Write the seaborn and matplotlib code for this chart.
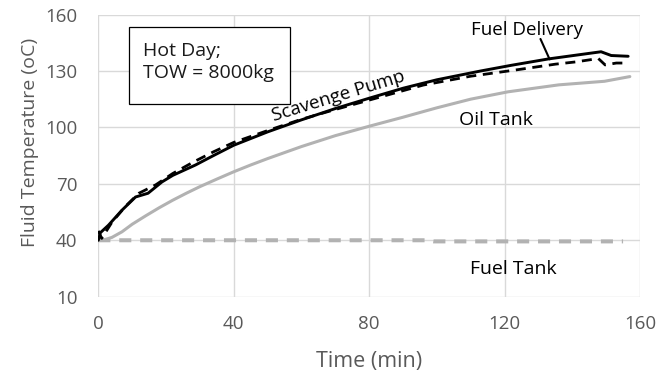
import matplotlib
matplotlib.use("Agg")
import matplotlib.pyplot as plt
from matplotlib.patches import Rectangle
import seaborn as sns
import pandas as pd

# Fuel delivery temperature (solid black)
fuel_delivery_t = [0, 0.6, 3, 7, 11, 14.7, 18.8, 22, 28.7, 34, 40, 50, 60, 70, 80, 90,
                   100, 113, 122, 133, 148.5, 151.5, 156.5]
fuel_delivery_T = [40, 44, 48, 56, 63, 65, 71, 74.5, 80, 85, 90.5, 97.6, 104, 110, 115.5, 120.8,
                   125.3, 130, 133, 136.4, 140.2, 138.2, 137.8]

# Scavenge pump temperature (dashed black)
scavenge_t = [0, 1, 4, 8, 12, 17, 22, 28, 34, 40, 50, 60, 70, 80, 90, 96, 110, 124,
              135, 141, 147.7, 149.7, 153, 156]
scavenge_T = [45, 41, 49.5, 58, 65, 69.5, 75.5, 81.5, 87, 92, 98.3, 104.3, 109.5, 114.5, 119.5,
              122.5, 127.2, 130.7, 133.6, 134.8, 136.6, 133.2, 134.2, 134.2]

# Oil tank temperature (solid grey)
oil_tank_t = [0, 2, 4, 7, 10, 14, 18, 22, 26, 30, 35, 40, 45, 50, 60, 70, 80, 90,
              100, 110, 121, 136, 149.5, 157]
oil_tank_T = [40, 40.4, 41.5, 44.5, 48.5, 53, 57.3, 61.3, 65, 68.5, 72.5, 76.4, 80, 83.4,
              89.8, 95.6, 100.6, 105.4, 110.4, 115, 118.9, 122.6, 124.5, 127]

# Fuel tank temperature (dashed grey)
fuel_tank_t = [0, 40, 80, 97, 99, 120, 155]
fuel_tank_T = [40, 40, 40, 40, 39.4, 39.4, 39.4]

x_ticks = [0, 40, 80, 120, 160]
y_ticks = [10, 40, 70, 100, 130, 160]

sns.set_theme(style="white")
plt.rcParams["font.family"] = ["Open Sans", "DejaVu Sans"]

TICK_GREY = "#595959"
GRID_GREY = "#D9D9D9"
LINE_GREY = "#B2B2B2"

fig = plt.figure(figsize=(6.59, 3.77), dpi=100)
ax = fig.add_axes([98.3 / 659, 1 - 296.7 / 377, (640 - 98.3) / 659, (296.7 - 14.5) / 377])

series = [
    (fuel_tank_t, fuel_tank_T, LINE_GREY, 2.9, (0, (3.0, 2.2))),
    (oil_tank_t, oil_tank_T, LINE_GREY, 2.2, "-"),
    (scavenge_t, scavenge_T, "black", 2.0, (0, (3.6, 2.4))),
    (fuel_delivery_t, fuel_delivery_T, "black", 2.1, "-"),
]
for t, T, color, lw, ls in series:
    df = pd.DataFrame({"t": t, "T": T})
    sns.lineplot(data=df, x="t", y="T", ax=ax, color=color, linewidth=lw,
                 linestyle=ls, sort=False, estimator=None, zorder=3)

ax.set_xlim(0, 160)
ax.set_ylim(10, 160)
ax.set_xticks(x_ticks)
ax.set_yticks(y_ticks)
ax.grid(True, color=GRID_GREY, linewidth=1.0)
for s in ax.spines.values():
    s.set_visible(False)
ax.tick_params(axis="both", length=0, labelsize=13.5, labelcolor=TICK_GREY)
ax.tick_params(axis="x", pad=13)
ax.tick_params(axis="y", pad=15)

ax.set_xlabel("Time (min)", fontsize=15.5, color=TICK_GREY, labelpad=13)
ax.set_ylabel("Fluid Temperature (oC)", fontsize=14, color=TICK_GREY)
ax.yaxis.set_label_coords(-0.109, 0.548)

# Series labels
ax.text(126.7, 151.9, "Fuel Delivery", fontsize=13.5, ha="center", va="center", color="black")
ax.annotate("", xy=(133.3, 136.2), xytext=(130.6, 147),
            arrowprops=dict(arrowstyle="-", color="black", lw=1.5, shrinkA=0, shrinkB=0))
ax.text(70.8, 116.8, "Scavenge Pump", fontsize=13.5, ha="center", va="center",
        rotation=17, rotation_mode="anchor", color="black")
ax.text(117.5, 104, "Oil Tank", fontsize=14, ha="center", va="center", color="black")
ax.text(122.6, 24.6, "Fuel Tank", fontsize=14, ha="center", va="center", color="black")

# Condition box
fig.patches.append(Rectangle((129 / 659, 1 - 104 / 377), 161 / 659, 77 / 377,
                             transform=fig.transFigure, fill=True, facecolor="white",
                             edgecolor="black", linewidth=0.9, zorder=5))
fig.text(143 / 659, 1 - 62 / 377, "Hot Day;\nTOW = 8000kg", fontsize=14,
         ha="left", va="center", linespacing=1.35, color="#1a1a1a", zorder=6)

fig.savefig("out.png", dpi=100)
